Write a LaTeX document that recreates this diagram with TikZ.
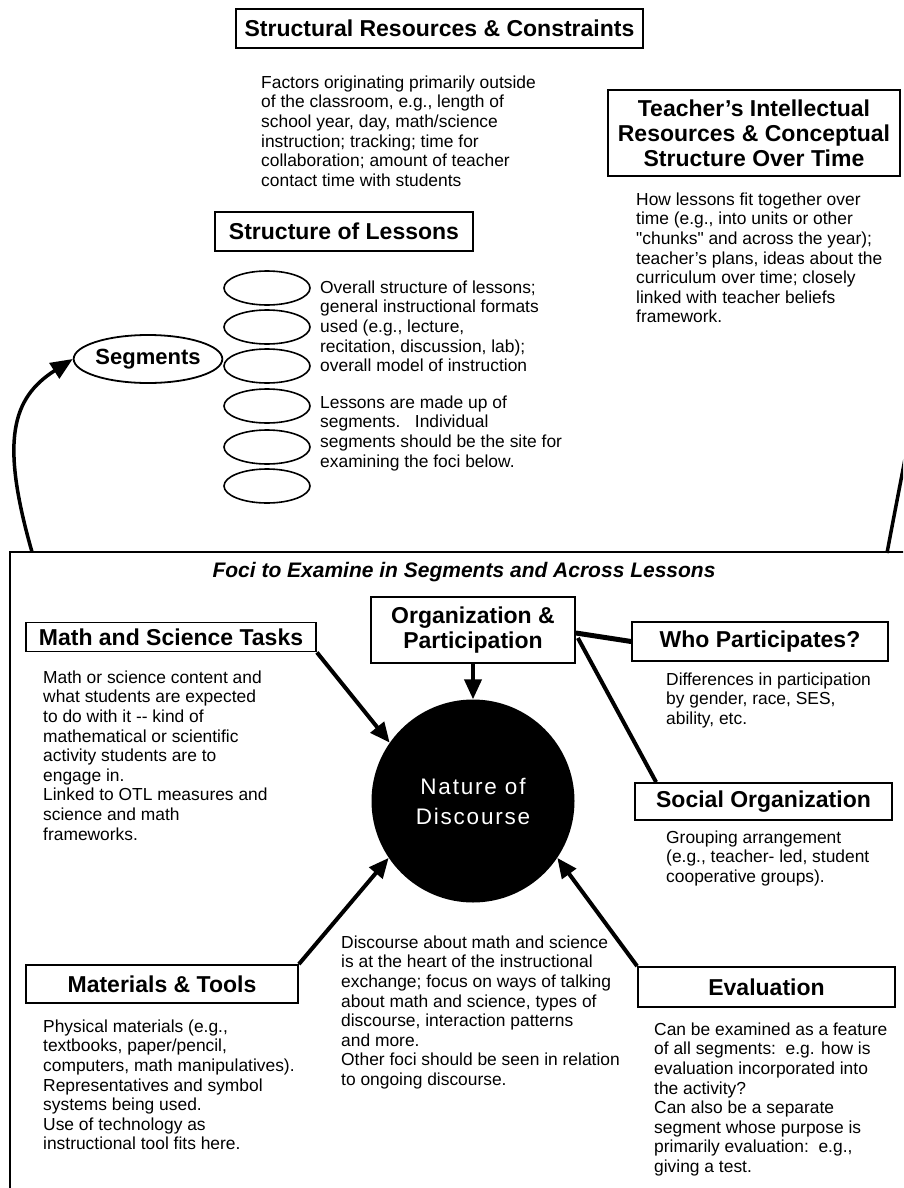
\documentclass[tikz,border=0pt]{standalone}
\usepackage{fontspec}
\setmainfont{Liberation Sans}
\newfontfamily\discfont[LetterSpace=8]{Liberation Sans}
\newfontfamily\qfont[Ligatures=TeXOff]{Liberation Sans}
\usetikzlibrary{shapes.geometric,arrows.meta,calc}
\begin{document}
\begin{tikzpicture}[x=1pt,y=-1pt,
 hbox/.style={draw, line width=1.8pt, inner sep=0pt, align=center, font=\fontsize{23}{25}\selectfont\bfseries},
 body/.style={anchor=north west, inner sep=0pt, align=left, font=\fontsize{17.4}{19.6}\selectfont},
 oval/.style={draw, ellipse, line width=1.6pt, minimum width=86pt, minimum height=34pt, inner sep=0pt},
 arr/.style={line width=4pt, -{Triangle[length=20pt,width=17pt]}},
 link/.style={line width=4pt}]
\useasboundingbox (0,0) rectangle (903,1188);
\clip (0,0) rectangle (903,1188);

% frame of the foci area
\draw[line width=2pt] (10,1200) -- (10,552) -- (910,552);

% top headings
\node[hbox, minimum width=407pt, minimum height=39pt] (src) at (439.5,28.5) {Structural Resources \& Constraints};
\node[body] (srctxt) at (261,75.5) {Factors originating primarily outside\\of the classroom, e.g., length of\\school year, day, math/science\\instruction; tracking; time for\\collaboration; amount of teacher\\contact time with students};

\node[hbox, minimum width=292pt, minimum height=86pt] (tir) at (754,133) {Teacher’s Intellectual\\Resources \& Conceptual\\Structure Over Time};
\node[body] (tirtxt) at (636,192.5) {How lessons fit together over\\time (e.g., into units or other\\{\qfont"}chunks{\qfont"} and across the year);\\teacher’s plans, ideas about the\\curriculum over time; closely\\linked with teacher beliefs\\framework.};

\node[hbox, minimum width=258pt, minimum height=39pt] (sol) at (344,231.5) {Structure of Lessons};

% lesson segments
\node[oval] (e1) at (267,288) {};
\node[oval] (e2) at (267,327) {};
\node[oval] (e3) at (267,366) {};
\node[oval] (e4) at (267,406) {};
\node[oval] (e5) at (267,447) {};
\node[oval] (e6) at (267,486) {};
\node[body] (soltxt1) at (320,280.5) {Overall structure of lessons;\\general instructional formats\\used (e.g., lecture,\\recitation, discussion, lab);\\overall model of instruction};
\node[body] (soltxt2) at (320,395.5) {Lessons are made up of\\segments.\ \ \ Individual\\segments should be the site for\\examining the foci below.};

\node[draw, ellipse, line width=1.8pt, minimum width=129pt, minimum height=48pt, inner sep=0pt, font=\fontsize{22}{25}\selectfont\bfseries] (seg) at (148,359) {Segments};

% curved connectors from the foci frame
\coordinate (lstart) at (32,552);
\coordinate (rstart) at (887,553);
\coordinate (rend) at (918,390);
\draw[line width=3.5pt, -{Triangle[length=22pt,width=18pt]}] (lstart) .. controls (0,440) and (12,398) .. (seg.west);
\draw[line width=3.5pt] (rstart) .. controls (896,505) and (905,460) .. (rend);

% foci
\node[font=\fontsize{21}{25}\selectfont\bfseries\itshape] (foci) at (464,572) {Foci to Examine in Segments and Across Lessons};

\node[circle, fill=black, minimum size=203pt, inner sep=0pt, text=white, align=center, font={\discfont\fontsize{22.5}{30}\selectfont}] (nod) at (473,801) {Nature of\\Discourse};

\node[hbox, minimum width=290pt, minimum height=29pt] (mst) at (171,637) {Math and Science Tasks};
\node[body] (msttxt) at (43,670.5) {Math or science content and\\what students are expected\\to do with it -{}- kind of\\mathematical or scientific\\activity students are to\\engage in.\\Linked to OTL measures and\\science and math\\frameworks.};

\node[hbox, minimum width=204pt, minimum height=66pt] (org) at (473,630) {Organization \&\\Participation};

\node[hbox, minimum width=256pt, minimum height=39pt] (who) at (760,641.5) {Who Participates?};
\node[body] (whotxt) at (666,672.5) {Differences in participation\\by gender, race, SES,\\ability, etc.};

\node[hbox, minimum width=257pt, minimum height=37pt] (soc) at (763.5,801.5) {Social Organization};
\node[body] (soctxt) at (666,830.5) {Grouping arrangement\\(e.g., teacher- led, student\\cooperative groups).};

\node[hbox, minimum width=272pt, minimum height=38pt] (mat) at (162,984) {Materials \& Tools};
\node[body] (mattxt) at (43,1019.5) {Physical materials (e.g.,\\textbooks, paper/pencil,\\computers, math manipulatives).\\Representatives and symbol\\systems being used.\\Use of technology as\\instructional tool fits here.};

\node[body] (nodtxt) at (341,935.5) {Discourse about math and science\\is at the heart of the instructional\\exchange; focus on ways of talking\\about math and science, types of\\discourse, interaction patterns\\and more.\\Other foci should be seen in relation\\to ongoing discourse.};

\node[hbox, minimum width=257pt, minimum height=40pt] (eva) at (766.5,987) {Evaluation};
\node[body] (evatxt) at (654,1022.5) {Can be examined as a feature\\of all segments:\ \ e.g. how is\\evaluation incorporated into\\the activity?\\Can also be a separate\\segment whose purpose is\\primarily evaluation:\ \ e.g.,\\giving a test.};

% connectors
\draw[arr] (org.south) -- (nod.north);
\draw[arr] (mst.south east) -- (nod.145);
\draw[arr] (mat.north east) -- (nod.214);
\draw[arr] (eva.north west) -- (nod.326);
\draw[line width=5pt] ($(org.east)+(0,3)$) -- (who.west);
\draw[link] ($(org.east)+(2,8)$) -- ($(soc.north west)+(22,0)$);
\end{tikzpicture}
\end{document}
